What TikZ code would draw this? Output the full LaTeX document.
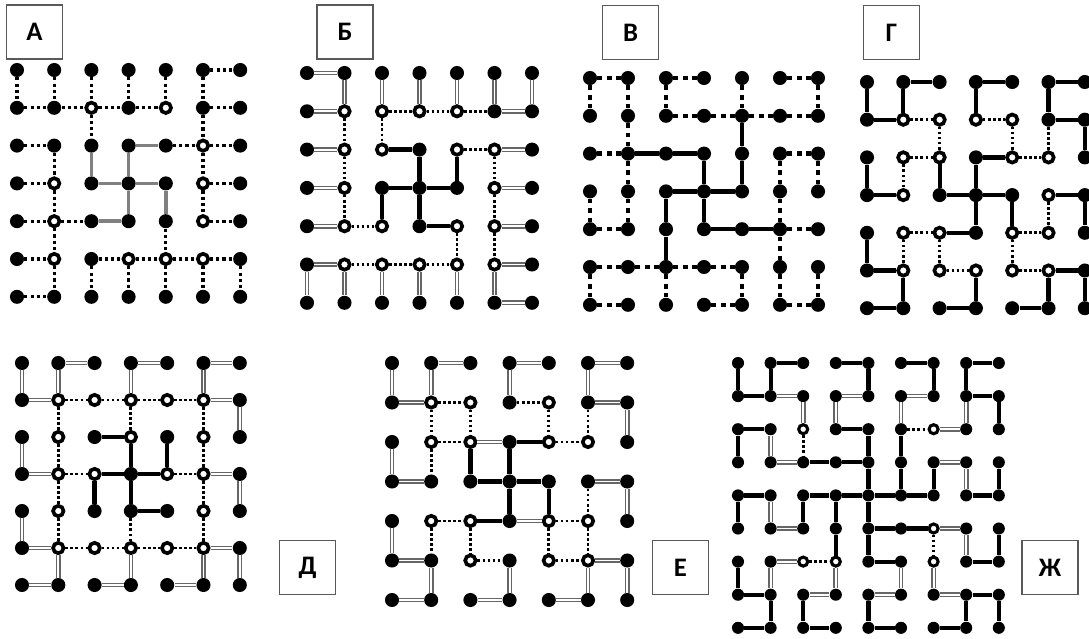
\documentclass[tikz,border=0pt]{standalone}
\usepackage{fontspec}
\setsansfont{Carlito}
\usetikzlibrary{positioning}
\tikzset{
  % lattice sites (black site / open site on a dotted bond)
  dot/.style={circle, fill=black, inner sep=0pt, minimum size=10pt},
  ring/.style={draw=black, fill=white, line width=2.6pt, minimum size=7.4pt},
  rng/.style={rng-#1/.style=ring},
  % bonds
  solidlink/.style={line width=3pt},
  graylink/.style={line width=2.6pt, draw=black!50},
  dbllink/.style={draw=black!60, double=white, double distance=1.3pt, line width=1pt},
  dotlink/.style={line width=2pt, dash pattern=on 1.8pt off 1.8pt},
  dotA/.style={line width=2.4pt, dash pattern=on 2.2pt off 2.2pt},
  dashlink/.style={line width=3pt, dash pattern=on 3.4pt off 3.4pt},
  % panel tags
  tag/.style={draw=black!65, line width=1pt, minimum width=40pt, minimum height=38.5pt,
    inner sep=0pt, font=\sffamily\bfseries\fontsize{19}{19}\selectfont},
}

\begin{document}
\begin{tikzpicture}[x=0.025cm, y=-0.025cm]
\useasboundingbox (0,0) rectangle (1089,638);

% =====================================================================
% PANEL A
% =====================================================================
\node[tag] (tagA) at (34.5,32) {А};
\begin{scope}[rng/.list={2-1,4-1,5-2,1-3,5-3,1-4,5-4,1-5,3-5,4-5,5-5}]
  \foreach \c in {0,...,6}
    \foreach \r in {0,...,6}
      \node[dot, rng-\c-\r/.try] (A-\c-\r) at ({17+37.2*\c}, {70+37.8*\r}) {};
  \foreach \u/\v in {5-0/6-0, 0-0/0-1, 1-0/1-1, 2-0/2-1, 3-0/3-1, 4-0/4-1, 5-0/5-1,
      0-1/1-1, 1-1/2-1, 2-1/3-1, 3-1/4-1, 5-1/6-1, 2-1/2-2, 5-1/5-2, 5-2/5-3, 5-3/5-4,
      0-2/1-2, 4-2/5-2, 5-2/6-2, 1-2/1-3, 1-3/1-4, 1-4/1-5, 1-5/1-6, 0-3/1-3, 5-3/6-3,
      0-4/1-4, 1-4/2-4, 5-4/6-4, 4-4/4-5, 0-5/1-5, 2-5/3-5, 3-5/4-5, 4-5/5-5, 5-5/6-5,
      2-5/2-6, 3-5/3-6, 4-5/4-6, 5-5/5-6, 6-5/6-6, 0-6/1-6}
    \draw[dotA] (A-\u) -- (A-\v);
  \foreach \u/\v in {3-2/4-2, 2-2/2-3, 3-2/3-3, 3-3/3-4, 4-3/4-4, 2-3/3-3, 3-3/4-3, 2-4/3-4}
    \draw[graylink] (A-\u) -- (A-\v);
\end{scope}

% =====================================================================
% PANEL B
% =====================================================================
\node[tag] (tagB) at (345,32) {Б};
\begin{scope}[rng/.list={1-1,2-1,3-1,4-1,1-2,1-3,1-4,2-2,2-4,4-2,5-2,5-3,5-4,5-5,4-4,4-5,1-5,2-5,3-5}]
  \foreach \c in {0,...,6}
    \foreach \r in {0,...,6}
      \node[dot, rng-\c-\r/.try] (B-\c-\r) at ({307+37.5*\c}, {73+38.3*\r}) {};
  \foreach \u/\v in {0-0/1-0, 1-0/1-1, 2-0/2-1, 3-0/3-1, 4-0/4-1, 5-0/5-1, 5-1/6-1, 6-0/6-1,
      0-1/1-1, 0-2/1-2, 5-2/6-2, 0-3/1-3, 5-3/6-3, 0-4/1-4, 5-4/6-4, 0-5/1-5, 5-5/6-5,
      0-5/0-6, 1-5/1-6, 2-5/2-6, 3-5/3-6, 4-5/4-6, 5-5/5-6, 5-6/6-6}
    \draw[dbllink] (B-\u) -- (B-\v);
  \foreach \u/\v in {2-2/3-2, 3-2/3-3, 3-3/3-4, 4-2/4-3, 2-3/3-3, 3-3/4-3, 2-3/2-4, 3-4/4-4}
    \draw[solidlink] (B-\u) -- (B-\v);
  \foreach \u/\v in {2-1/3-1, 3-1/4-1, 4-1/5-1, 1-1/1-2, 1-2/1-3, 1-3/1-4, 2-1/2-2,
      4-2/5-2, 5-2/5-3, 5-3/5-4, 5-4/5-5, 1-4/2-4, 4-4/4-5, 1-5/2-5, 2-5/3-5, 3-5/4-5}
    \draw[dotlink] (B-\u) -- (B-\v);
\end{scope}

% =====================================================================
% PANEL V
% =====================================================================
\node[tag] (tagV) at (630.5,32.5) {В};
\begin{scope}
  \foreach \c in {0,...,6}
    \foreach \r in {0,...,6}
      \node[dot] (V-\c-\r) at ({590+38*\c}, {78+37.8*\r}) {};
  \foreach \u/\v in {0-0/1-0, 2-0/3-0, 5-0/6-0, 0-0/0-1, 1-0/1-1, 2-0/2-1, 4-0/4-1, 6-0/6-1,
      2-1/3-1, 3-1/4-1, 4-1/5-1, 5-1/6-1, 1-1/1-2, 0-2/1-2, 5-2/6-2, 1-2/1-3, 1-3/1-4,
      5-2/5-3, 5-3/5-4, 6-2/6-3, 0-3/0-4, 0-4/1-4, 5-4/6-4, 5-4/5-5, 5-5/5-6,
      0-5/1-5, 1-5/2-5, 2-5/3-5, 3-5/4-5, 0-5/0-6, 2-5/2-6, 4-5/4-6, 6-5/6-6,
      0-6/1-6, 3-6/4-6, 5-6/6-6}
    \draw[dashlink] (V-\u) -- (V-\v);
  \foreach \u/\v in {4-1/4-2, 4-2/4-3, 1-2/2-2, 2-2/3-2, 3-2/3-3, 3-3/3-4, 2-3/3-3,
      3-3/4-3, 2-3/2-4, 2-4/2-5, 3-4/4-4, 4-4/5-4}
    \draw[solidlink] (V-\u) -- (V-\v);
\end{scope}

% =====================================================================
% PANEL G
% =====================================================================
\node[tag] (tagG) at (891.5,32.5) {Г};
\begin{scope}[rng/.list={1-1,2-1,2-2,1-2,1-3,3-1,4-1,4-2,5-2,5-3,5-4,4-4,4-5,5-5,1-4,2-4,2-5,3-5,1-5}]
  \foreach \c in {0,...,6}
    \foreach \r in {0,...,6}
      \node[dot, rng-\c-\r/.try] (G-\c-\r) at ({867+36.3*\c}, {82+37.7*\r}) {};
  \foreach \u/\v in {1-0/2-0, 3-0/4-0, 5-0/6-0, 0-0/0-1, 1-0/1-1, 3-0/3-1, 5-0/5-1,
      0-1/1-1, 5-1/6-1, 6-1/6-2, 3-2/4-2, 0-2/0-3, 2-2/2-3, 3-2/3-3, 3-3/3-4,
      0-3/1-3, 2-3/3-3, 3-3/4-3, 5-3/6-3, 4-3/4-4, 6-3/6-4, 2-4/3-4, 0-4/0-5,
      0-5/1-5, 5-5/6-5, 1-5/1-6, 3-5/3-6, 5-5/5-6, 6-5/6-6, 0-6/1-6, 2-6/3-6, 4-6/5-6}
    \draw[solidlink] (G-\u) -- (G-\v);
  \foreach \u/\v in {1-1/2-1, 2-1/2-2, 1-2/2-2, 1-2/1-3, 3-1/4-1, 4-1/4-2, 5-1/5-2,
      4-2/5-2, 5-3/5-4, 4-4/5-4, 1-4/2-4, 1-4/1-5, 2-4/2-5, 2-5/3-5, 4-4/4-5, 4-5/5-5}
    \draw[dotlink] (G-\u) -- (G-\v);
\end{scope}

% =====================================================================
% PANEL D
% =====================================================================
\node[tag] (tagD) at (307.5,567.5) {Д};
\begin{scope}[rng/.list={1-1,2-1,3-1,4-1,5-1,1-2,1-3,1-4,1-5,3-2,5-2,5-3,5-4,5-5,2-3,4-3,2-5,3-5,4-5}]
  \foreach \c in {0,...,6}
    \foreach \r in {0,...,6}
      \node[dot, rng-\c-\r/.try] (D-\c-\r) at ({22+36.3*\c}, {363+37*\r}) {};
  \foreach \u/\v in {1-0/2-0, 3-0/4-0, 5-0/6-0, 0-0/0-1, 1-0/1-1, 3-0/3-1, 5-0/5-1,
      0-1/1-1, 5-1/6-1, 6-1/6-2, 0-2/0-3, 0-3/1-3, 5-3/6-3, 6-3/6-4, 0-4/0-5,
      0-5/1-5, 5-5/6-5, 1-5/1-6, 3-5/3-6, 5-5/5-6, 6-5/6-6, 0-6/1-6, 2-6/3-6, 4-6/5-6}
    \draw[dbllink] (D-\u) -- (D-\v);
  \foreach \u/\v in {2-2/3-2, 3-2/3-3, 3-3/3-4, 4-2/4-3, 2-3/3-3, 3-3/4-3, 2-3/2-4, 3-4/4-4}
    \draw[solidlink] (D-\u) -- (D-\v);
  \foreach \u/\v in {1-1/2-1, 2-1/3-1, 3-1/4-1, 4-1/5-1, 1-1/1-2, 1-2/1-3, 1-3/1-4, 1-4/1-5,
      3-1/3-2, 5-1/5-2, 5-2/5-3, 5-3/5-4, 5-4/5-5, 1-3/2-3, 4-3/5-3, 3-4/3-5,
      1-5/2-5, 2-5/3-5, 3-5/4-5, 4-5/5-5}
    \draw[dotlink] (D-\u) -- (D-\v);
\end{scope}

% =====================================================================
% PANEL E
% =====================================================================
\node[tag] (tagE) at (680.5,567.5) {Е};
\begin{scope}[rng/.list={1-1,2-1,4-1,1-2,2-2,4-2,5-2,5-4,5-5,1-4,2-4,4-4,2-5,4-5}]
  \foreach \c in {0,...,6}
    \foreach \r in {0,...,6}
      \node[dot, rng-\c-\r/.try] (E-\c-\r) at ({392+39.2*\c}, {363+39.5*\r}) {};
  \foreach \u/\v in {1-0/2-0, 3-0/4-0, 5-0/6-0, 0-0/0-1, 1-0/1-1, 3-0/3-1, 5-0/5-1,
      0-1/1-1, 5-1/6-1, 6-1/6-2, 0-2/0-3, 0-3/1-3, 5-3/6-3, 6-3/6-4, 0-4/0-5,
      0-5/1-5, 5-5/6-5, 1-5/1-6, 3-5/3-6, 5-5/5-6, 6-5/6-6, 0-6/1-6, 2-6/3-6, 4-6/5-6,
      2-2/3-2, 3-4/4-4}
    \draw[dbllink] (E-\u) -- (E-\v);
  \foreach \u/\v in {3-2/4-2, 2-2/2-3, 3-2/3-3, 3-3/3-4, 2-3/3-3, 3-3/4-3, 4-3/4-4, 2-4/3-4}
    \draw[solidlink] (E-\u) -- (E-\v);
  \foreach \u/\v in {1-1/2-1, 3-1/4-1, 1-1/1-2, 1-2/1-3, 2-1/2-2, 4-1/4-2, 5-1/5-2,
      1-2/2-2, 4-2/5-2, 5-3/5-4, 5-4/5-5, 1-4/2-4, 4-4/5-4, 1-4/1-5, 2-4/2-5,
      2-5/3-5, 4-4/4-5, 4-5/5-5}
    \draw[dotlink] (E-\u) -- (E-\v);
\end{scope}

% =====================================================================
% PANEL ZH (9 x 9)
% =====================================================================
\node[tag] (tagZ) at (1050,567.5) {Ж};
\begin{scope}[dot/.append style={minimum size=8.6pt},
    ring/.append style={minimum size=6.4pt, line width=2.2pt},
    rng/.list={6-2,2-2,2-6,3-6,6-5,6-6}]
  \foreach \c in {0,...,8}
    \foreach \r in {0,...,8}
      \node[dot, rng-\c-\r/.try] (Z-\c-\r) at ({738+32.6*\c}, {363+33.1*\r}) {};
  \foreach \u/\v in {1-0/2-0, 3-0/4-0, 5-0/6-0, 7-0/8-0, 0-0/0-1, 1-0/1-1, 4-0/4-1,
      6-0/6-1, 7-0/7-1, 0-1/1-1, 7-1/8-1, 8-1/8-2, 0-2/1-2, 3-2/4-2, 0-2/0-3,
      4-2/4-3, 5-2/5-3, 2-3/3-3, 3-3/4-3, 4-3/4-4, 5-3/5-4, 6-3/6-4, 8-3/8-4,
      0-4/1-4, 2-4/3-4, 3-4/4-4, 4-4/5-4, 5-4/6-4, 7-4/8-4, 0-4/0-5, 2-4/2-5,
      3-4/3-5, 4-4/4-5, 4-5/5-5, 5-5/6-5, 3-5/3-6, 4-5/4-6, 8-5/8-6, 4-6/5-6,
      7-6/8-6, 0-6/0-7, 0-7/1-7, 7-7/8-7, 1-7/1-8, 2-7/2-8, 4-7/4-8, 7-7/7-8,
      8-7/8-8, 0-8/1-8, 2-8/3-8, 4-8/5-8, 6-8/7-8}
    \draw[solidlink] (Z-\u) -- (Z-\v);
  \foreach \u/\v in {1-1/2-1, 3-1/4-1, 5-1/6-1, 2-1/2-2, 3-1/3-2, 5-1/5-2, 7-1/7-2,
      6-2/7-2, 1-2/1-3, 1-3/2-3, 6-3/7-3, 7-3/7-4, 1-4/1-5, 1-5/2-5, 6-5/7-5,
      7-5/7-6, 1-6/2-6, 1-6/1-7, 3-6/3-7, 5-6/5-7, 6-6/6-7, 2-7/3-7, 4-7/5-7, 6-7/7-7}
    \draw[dbllink] (Z-\u) -- (Z-\v);
  \foreach \u/\v in {5-2/6-2, 2-2/2-3, 2-6/3-6, 6-5/6-6}
    \draw[dotlink] (Z-\u) -- (Z-\v);
\end{scope}

\end{tikzpicture}
\end{document}
